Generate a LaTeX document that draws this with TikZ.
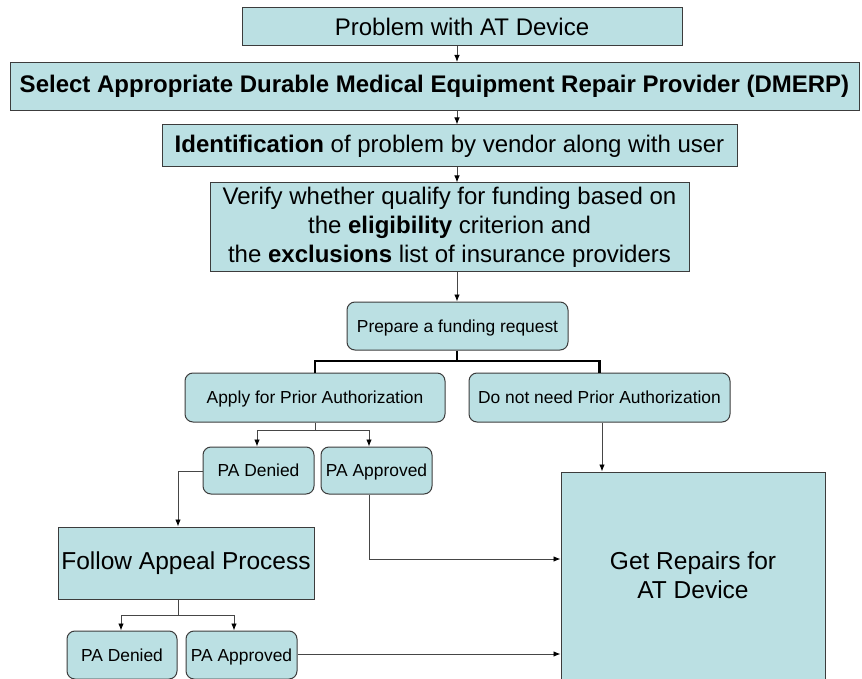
\documentclass[tikz,border=0pt]{standalone}
\usepackage{fontspec}
\setmainfont{Liberation Sans}
\usetikzlibrary{arrows.meta}
\definecolor{boxfill}{RGB}{187,224,227}
\definecolor{boxline}{RGB}{60,60,60}
\definecolor{conn}{RGB}{70,70,70}
\begin{document}
\begin{tikzpicture}[x=1pt,y=-1pt,
  box/.style={draw=boxline, fill=boxfill, line width=1pt, inner sep=0pt, align=center},
  rbox/.style={box, rounded corners=8pt},
  big/.style={font=\fontsize{24}{29}\selectfont},
  small/.style={font=\fontsize{17.4}{20}\selectfont, text height=15.7pt, text depth=3.7pt},
  huge/.style={font=\fontsize{24.5}{29}\selectfont},
  conn/.style={draw=conn, line width=0.9pt},
  arr/.style={conn, -{Latex[length=7pt,width=5.5pt]}, arrows={[color=black]}},
  thick/.style={draw=black, line width=2.6pt}
]
\useasboundingbox (0,0) rectangle (862,679);

\node[box, big, minimum width=440pt, minimum height=38pt] (b1) at (462,26.5) {Problem with AT Device};
\node[box, big, minimum width=849pt, minimum height=48pt] (b2) at (434.5,86.5) {\textbf{Select Appropriate Durable Medical Equipment Repair Provider (DMERP)}};
\node[box, big, minimum width=575pt, minimum height=42pt] (b3) at (449.5,146) {\textbf{Identification} of problem by vendor along with user};
\node[box, big, minimum width=479pt, minimum height=88pt] (b4) at (449.5,227) {Verify whether qualify for funding based on\\the \textbf{eligibility} criterion and\\ the \textbf{exclusions} list of insurance providers};

\node[rbox, small, minimum width=221pt, minimum height=48pt] (prep) at (457.5,326) {Prepare a funding request};
\node[rbox, small, minimum width=260pt, minimum height=49pt] (apply) at (315,397.5) {Apply for Prior Authorization};
\node[rbox, small, minimum width=261pt, minimum height=49pt] (donot) at (599.5,397.5) {Do not need Prior Authorization};
\node[rbox, small, minimum width=111pt, minimum height=47pt] (den1) at (258.5,470.5) {PA Denied};
\node[rbox, small, minimum width=111pt, minimum height=47pt] (app1) at (376.5,470.5) {PA Approved};
\node[box, huge, minimum width=256pt, minimum height=72pt] (follow) at (186,563) {Follow Appeal Process};
\node[box, huge, minimum width=264pt, minimum height=207pt] (rep) at (693,575.5) {Get Repairs for\\ AT Device};
\node[rbox, small, minimum width=110pt, minimum height=48pt] (den2) at (122,655) {PA Denied};
\node[rbox, small, minimum width=111pt, minimum height=48pt] (app2) at (241.5,655) {PA Approved};

% main vertical chain
\draw[arr] (b1.south -| 457,0) -- (b2.north -| 457,0);
\draw[arr] (b2.south -| 457,0) -- (b3.north -| 457,0);
\draw[arr] (b3.south -| 457,0) -- (b4.north -| 457,0);
\draw[arr] (b4.south -| 457,0) -- (prep.north -| 457,0);

% thick split
\coordinate (sp) at (457,361);
\draw[thick] (prep.south -| 457,0) -- (sp);
\draw[thick] (apply.north) -- (apply.north |- sp) -- (donot.north |- sp) -- (donot.north);

% apply -> PA
\coordinate (as) at (315,430);
\draw[conn] (apply.south) -- (as);
\draw[arr] (as) -| (den1.north -| 257,0);
\draw[arr] (as) -| (app1.north -| 369,0);

% denied -> follow
\draw[arr] (den1.west |- 0,471) -| (follow.north -| 178,0);

% approved -> repairs
\draw[arr] (app1.south -| 369,0) |- (rep.west |- 0,559);

% do not need -> repairs
\draw[arr] (donot.south -| 602,0) -- (rep.north -| 602,0);

% follow -> PA
\coordinate (fs) at (178,615);
\draw[conn] (follow.south -| 178,0) -- (fs);
\draw[arr] (fs) -| (den2.north -| 121,0);
\draw[arr] (fs) -| (app2.north -| 234,0);

% approved 2 -> repairs
\draw[arr] (app2.east |- 0,654) -- (rep.west |- 0,654);
\end{tikzpicture}
\end{document}
